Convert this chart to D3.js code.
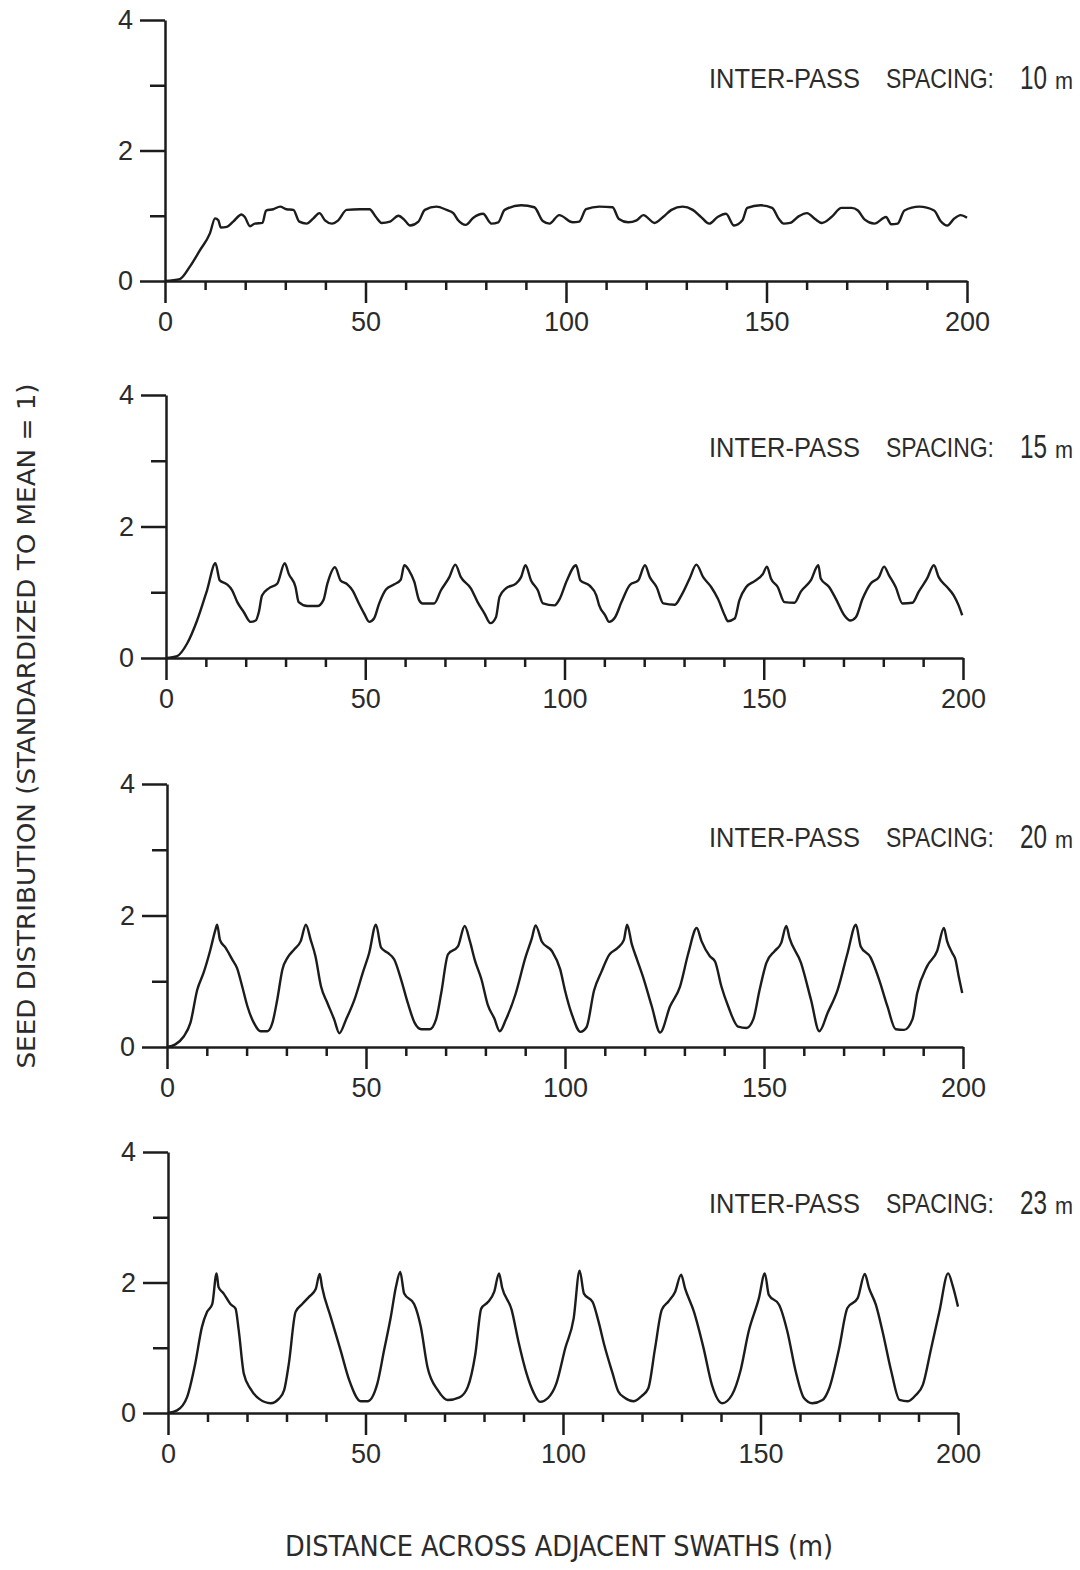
<!DOCTYPE html>
<html>
<head>
<meta charset="utf-8">
<script src="https://cdn.jsdelivr.net/npm/d3@7"></script>
<style>
body { margin: 0; background: #fff; }
svg text { font-family: "Liberation Sans", Arial, sans-serif; fill: #2b2b2b; }
.axis path, .axis line { stroke: #1c1c1c; stroke-width: 2.5px; }
.axis text { font-size: 27px; }
.cond { font-family: "DejaVu Sans Condensed", "Liberation Sans Narrow", "Liberation Sans", sans-serif; }
</style>
</head>
<body>
<div id="graph"></div>
<script>
// spacing between passes, one panel each
var spacings   = ["10", "15", "20", "23"]
var yTickMajor = [0, 2, 4]
var yTickMinor = [1, 3]
var xTickMajor = [0, 50, 100, 150, 200]
var xTickMinor = [10, 20, 30, 40, 60, 70, 80, 90, 110, 120, 130, 140, 160, 170, 180, 190]

// [distance (m), seed distribution]
var seed10 = [[0,0],[3.7,0.03],[6.2,0.22],[8.7,0.47],[11.2,0.73],[12.5,0.96],[13.3,0.93],[13.9,0.82],[15.4,0.83],[17.0,0.91],
  [19.1,1.02],[19.9,0.98],[21.2,0.84],[22.4,0.88],[24.3,0.89],[25.2,1.08],[27.0,1.10],[28.7,1.14],[30.3,1.10],[32.0,1.09],
  [33.5,0.91],[35.3,0.88],[37.0,0.96],[38.5,1.04],[39.9,0.93],[41.6,0.88],[43.2,0.93],[45.3,1.09],[48.6,1.10],[51.0,1.10],
  [52.6,0.98],[54.0,0.89],[56.1,0.91],[58.2,1.00],[59.8,0.93],[61.1,0.85],[63.2,0.91],[64.8,1.09],[67.7,1.14],[70.2,1.09],
  [71.9,1.04],[73.1,0.93],[75.0,0.86],[76.9,0.97],[79.3,1.03],[81.4,0.88],[83.1,0.90],[84.7,1.09],[88.8,1.16],[92.1,1.13],
  [94.2,0.92],[95.9,0.88],[98.3,1.01],[101.7,0.90],[103.3,0.91],[105.0,1.10],[108.3,1.14],[111.6,1.13],[113.2,0.95],[115.5,0.90],
  [117.6,0.93],[119.3,1.01],[122.1,0.89],[124.2,0.98],[126.3,1.09],[129.1,1.14],[131.6,1.09],[133.7,0.98],[135.7,0.88],[137.8,0.98],
  [139.9,1.03],[141.9,0.85],[144.0,0.93],[145.2,1.12],[148.5,1.16],[151.4,1.12],[153.1,0.95],[154.3,0.88],[155.9,0.89],[158.0,0.99],
  [160.1,1.04],[162.1,0.95],[163.8,0.89],[166.2,0.98],[168.7,1.12],[171.2,1.12],[172.8,1.08],[174.5,0.94],[176.9,0.88],[179.8,0.98],
  [181.1,0.87],[182.7,0.88],[184.4,1.08],[188.1,1.14],[191.8,1.08],[193.4,0.92],[195.1,0.85],[196.7,0.95],[198.4,1.01],[200,0.97]]

var seed15 = [[0,0],[2.8,0.03],[5.3,0.22],[7.8,0.57],[10.3,1.03],[12.4,1.44],[13.5,1.18],[15.3,1.12],[16.6,1.03],[17.9,0.85],
  [19.5,0.70],[21.2,0.55],[22.5,0.57],[23.3,0.70],[24.1,0.95],[25.8,1.06],[27.9,1.13],[29.8,1.44],[30.8,1.28],[32.5,1.08],
  [33.3,0.85],[35.5,0.79],[38.0,0.79],[39.5,0.88],[40.5,1.13],[42.4,1.38],[43.8,1.18],[45.5,1.12],[46.8,1.03],[48.4,0.83],
  [49.7,0.68],[51.0,0.55],[52.2,0.60],[53.5,0.83],[55.2,1.04],[57.3,1.12],[58.9,1.19],[59.8,1.41],[61.0,1.33],[62.3,1.16],
  [63.5,0.88],[64.4,0.83],[67.3,0.83],[69.0,1.03],[71.1,1.23],[72.6,1.42],[74.0,1.23],[76.5,1.06],[78.2,0.85],[79.9,0.68],
  [81.4,0.53],[82.8,0.62],[83.7,0.93],[85.3,1.06],[87.8,1.13],[89.1,1.23],[90.2,1.41],[91.6,1.18],[93.3,1.03],[94.6,0.83],
  [97.5,0.80],[98.8,0.90],[100.6,1.18],[102.9,1.41],[104.0,1.18],[106.3,1.10],[108.0,0.95],[108.7,0.80],[110.2,0.65],[111.2,0.55],
  [112.7,0.62],[114.3,0.85],[116.4,1.11],[118.5,1.18],[120.2,1.41],[121.4,1.23],[123.1,1.08],[124.8,0.83],[127.7,0.81],[129.3,0.95],
  [131.4,1.21],[133.1,1.42],[134.8,1.23],[136.8,1.08],[138.5,0.90],[140.2,0.65],[141.0,0.56],[142.7,0.60],[143.9,0.88],[145.6,1.08],
  [147.7,1.17],[149.8,1.28],[150.8,1.39],[151.8,1.21],[153.5,1.08],[155.2,0.85],[157.7,0.84],[159.3,1.01],[161.8,1.18],[163.7,1.41],
  [164.3,1.21],[166.4,1.08],[168.1,0.90],[170.2,0.65],[171.7,0.57],[173.1,0.62],[174.8,0.90],[176.8,1.13],[178.9,1.23],[180.2,1.39],
  [181.4,1.26],[183.1,1.08],[184.8,0.83],[187.3,0.84],[188.9,1.01],[191.0,1.21],[192.7,1.41],[193.9,1.23],[196.0,1.08],[197.7,0.95],
  [198.9,0.80],[199.8,0.65]]

var seed20 = [[0,0],[2.1,0.04],[4.2,0.16],[5.9,0.37],[7.6,0.87],[9.2,1.13],[10.9,1.48],[12.2,1.79],[12.6,1.86],[13.3,1.63],
  [14.7,1.51],[16.4,1.33],[17.6,1.20],[18.9,0.92],[20.2,0.62],[21.8,0.37],[23.5,0.24],[25.2,0.24],[26.5,0.37],[27.7,0.72],
  [29.0,1.18],[30.3,1.36],[31.9,1.48],[33.6,1.61],[34.9,1.86],[36.1,1.63],[37.3,1.38],[38.7,0.92],[40.3,0.67],[42.0,0.42],
  [43.3,0.21],[45.0,0.42],[47.1,0.72],[49.2,1.13],[50.8,1.43],[52.5,1.86],[53.8,1.51],[55.5,1.43],[57.1,1.33],[58.8,1.03],
  [60.5,0.67],[62.2,0.37],[63.9,0.27],[66.0,0.27],[67.6,0.42],[68.9,0.82],[70.6,1.41],[73.1,1.53],[74.8,1.84],[76.1,1.61],
  [77.3,1.33],[79.0,1.03],[80.6,0.64],[82.2,0.44],[83.6,0.24],[85.1,0.41],[87.6,0.81],[90.1,1.37],[91.7,1.66],[92.6,1.85],
  [94.2,1.60],[96.7,1.46],[98.8,1.18],[100.0,0.86],[101.7,0.50],[103.9,0.23],[105.4,0.30],[107.3,0.86],[109.2,1.15],[111.1,1.40],
  [113.1,1.50],[114.8,1.63],[115.6,1.86],[116.8,1.56],[118.1,1.33],[119.8,1.03],[121.8,0.62],[123.9,0.22],[126.4,0.62],[128.9,0.92],
  [131.0,1.43],[133.1,1.81],[134.3,1.61],[136.4,1.38],[137.7,1.30],[139.3,0.92],[141.0,0.62],[143.5,0.31],[145.6,0.29],[147.3,0.42],
  [148.9,0.87],[150.6,1.28],[152.7,1.46],[154.3,1.58],[155.6,1.84],[156.4,1.66],[159.3,1.28],[161.8,0.72],[163.9,0.24],[166.0,0.52],
  [168.5,0.87],[171.0,1.43],[173.1,1.86],[174.3,1.53],[176.8,1.36],[178.9,1.03],[181.0,0.62],[183.1,0.27],[185.2,0.26],[187.3,0.42],
  [188.5,0.82],[191.0,1.23],[193.5,1.46],[195.2,1.81],[196.0,1.61],[197.3,1.43],[198.1,1.33],[198.9,1.08],[199.8,0.82]]

var seed23 = [[0,0],[2.3,0.04],[4.8,0.24],[6.9,0.76],[8.6,1.32],[9.9,1.55],[11.2,1.67],[12.3,2.14],[12.8,1.93],[14.1,1.83],
  [15.8,1.67],[17.1,1.60],[17.9,1.27],[19.2,0.60],[20.9,0.37],[23.0,0.22],[26.0,0.15],[28.1,0.22],[29.4,0.35],[30.6,0.76],
  [32.3,1.55],[34.0,1.67],[35.7,1.78],[37.4,1.90],[38.4,2.13],[39.0,1.93],[41.2,1.47],[43.7,0.96],[45.9,0.50],[48.8,0.18],
  [50.5,0.18],[53.0,0.45],[54.7,0.96],[56.4,1.47],[57.7,1.93],[58.8,2.16],[59.8,1.83],[62.3,1.67],[64.0,1.32],[65.7,0.70],
  [68.3,0.35],[70.8,0.20],[73.8,0.24],[75.9,0.40],[77.8,0.90],[79.3,1.60],[81.0,1.70],[82.6,1.86],[83.8,2.14],[84.6,1.92],
  [87.0,1.58],[88.7,1.10],[90.8,0.60],[92.5,0.32],[94.2,0.17],[96.2,0.23],[98.3,0.45],[100.6,1.00],[102.7,1.45],[104.2,2.18],
  [105.3,1.83],[107.5,1.70],[109.0,1.40],[110.5,1.03],[112.5,0.62],[114.0,0.33],[115.7,0.23],[117.8,0.18],[119.9,0.26],[121.6,0.38],
  [123.3,0.99],[125.0,1.58],[126.7,1.71],[128.4,1.86],[129.9,2.12],[130.9,1.91],[133.1,1.56],[135.6,0.99],[137.7,0.43],[140.3,0.15],
  [142.8,0.28],[144.9,0.64],[147.0,1.25],[149.6,1.76],[151.1,2.14],[152.1,1.81],[154.7,1.66],[156.8,1.25],[158.9,0.64],[161.0,0.23],
  [163.1,0.15],[165.7,0.20],[167.4,0.38],[169.9,0.99],[172.0,1.61],[174.6,1.76],[176.4,2.13],[177.5,1.91],[179.2,1.66],[180.9,1.25],
  [183.1,0.64],[185.2,0.20],[187.3,0.18],[189.4,0.28],[191.1,0.43],[193.2,0.99],[195.3,1.56],[197.5,2.14],[198.7,1.94],[200,1.63]]

var series = [seed10, seed15, seed20, seed23]

// where each panel sits on the page
var layout = [
    {top: 20,   bottom: 281,  left: 165, right: 967, titleY: 88},
    {top: 395,  bottom: 658,  left: 166, right: 963, titleY: 457},
    {top: 784,  bottom: 1047, left: 167, right: 963, titleY: 847},
    {top: 1152, bottom: 1413, left: 168, right: 958, titleY: 1213}
]

var width = 1080, height = 1570
var svg = d3.select("#graph").append("svg")
            .attr("width", width)
            .attr("height", height)

layout.forEach(function(p, i){
    var x = d3.scaleLinear().domain([0, 200]).range([p.left, p.right])
    var y = d3.scaleLinear().domain([0, 4]).range([p.bottom, p.top])
    var g = svg.append("g").classed("panel", true)

    g.append("g").classed("axis", true)
     .attr("transform", "translate(0," + p.bottom + ")")
     .call(d3.axisBottom(x).tickValues(xTickMinor).tickSize(9).tickSizeOuter(0).tickFormat(""))
     .select(".domain").remove()

    g.append("g").classed("axis", true)
     .attr("transform", "translate(0," + p.bottom + ")")
     .call(d3.axisBottom(x).tickValues(xTickMajor).tickSize(22).tickSizeOuter(0).tickPadding(9).tickFormat(d3.format("d")))

    g.append("g").classed("axis", true)
     .attr("transform", "translate(" + p.left + ",0)")
     .call(d3.axisLeft(y).tickValues(yTickMinor).tickSize(15).tickSizeOuter(0).tickFormat(""))
     .select(".domain").remove()

    g.append("g").classed("axis", true)
     .attr("transform", "translate(" + p.left + ",0)")
     .call(d3.axisLeft(y).tickValues(yTickMajor).tickSize(25).tickSizeOuter(0).tickPadding(7).tickFormat(d3.format("d")))

    g.selectAll(".axis text").attr("font-family", null).attr("font-size", null)

    var line = d3.line()
                 .curve(d3.curveMonotoneX)
                 .x(function(d){ return x(d[0]) })
                 .y(function(d){ return y(d[1]) })

    g.append("path")
     .datum(series[i])
     .attr("d", line)
     .attr("fill", "none")
     .attr("stroke", "#1c1c1c")
     .attr("stroke-width", 2.4)
     .attr("stroke-linejoin", "round")

    // panel title
    var t = g.append("g").classed("cond", true)
    t.append("text").attr("x", 709).attr("y", p.titleY)
     .attr("font-size", 27).attr("textLength", 151).attr("lengthAdjust", "spacingAndGlyphs")
     .text("INTER-PASS")
    t.append("text").attr("x", 886).attr("y", p.titleY)
     .attr("font-size", 27).attr("textLength", 108).attr("lengthAdjust", "spacingAndGlyphs")
     .text("SPACING:")
    t.append("text").attr("x", 1020).attr("y", p.titleY + 1)
     .attr("font-size", 33).attr("textLength", 27).attr("lengthAdjust", "spacingAndGlyphs")
     .text(spacings[i])
    t.append("text").attr("x", 1055).attr("y", p.titleY + 1)
     .attr("font-size", 24).attr("textLength", 18).attr("lengthAdjust", "spacingAndGlyphs")
     .text("m")
})

svg.append("text").classed("cond", true)
   .attr("transform", "translate(35,726) rotate(-90)")
   .attr("text-anchor", "middle")
   .attr("font-size", 24)
   .attr("textLength", 685).attr("lengthAdjust", "spacingAndGlyphs")
   .text("SEED DISTRIBUTION (STANDARDIZED TO MEAN = 1)")

svg.append("text").classed("cond", true)
   .attr("x", 559).attr("y", 1556)
   .attr("text-anchor", "middle")
   .attr("font-size", 28)
   .attr("textLength", 548).attr("lengthAdjust", "spacingAndGlyphs")
   .text("DISTANCE ACROSS ADJACENT SWATHS (m)")
</script>
</body>
</html>
